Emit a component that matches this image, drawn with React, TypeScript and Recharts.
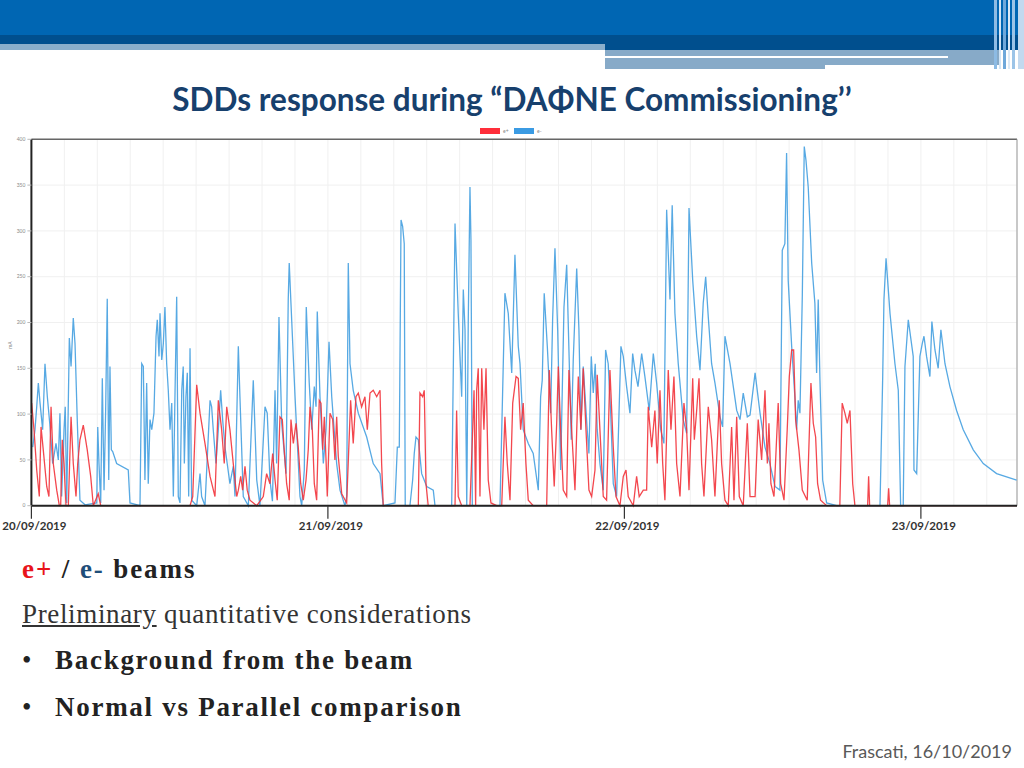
import React from 'react';
import { LineChart, Line, XAxis, YAxis, CartesianGrid, ReferenceLine } from 'recharts';

// hours since 20/09/2019 00:00
const dayLabels = ['20/09/2019', '21/09/2019', '22/09/2019', '23/09/2019'];
const yTicks = [0, 50, 100, 150, 200, 250, 300, 350, 400];

const eMinusHours = [
  0.11, 0.29, 0.43, 0.56, 0.7, 0.91, 1.1, 1.29, 1.51, 1.72,
  1.99, 2.18, 2.31, 2.45, 2.64, 2.74, 2.86, 3.07, 3.21, 3.39,
  3.53, 3.72, 3.93, 4.34, 5.29, 5.37, 5.47, 5.61, 5.74, 5.88,
  6.01, 6.14, 6.26, 6.36, 6.47, 6.58, 6.9, 7.84, 7.98, 8.79,
  8.93, 9.06, 9.19, 9.33, 9.46, 9.6, 9.74, 9.92, 10.09, 10.19,
  10.33, 10.41, 10.55, 10.68, 10.81, 10.95, 11.08, 11.22, 11.36, 11.49,
  11.62, 11.76, 11.89, 12.03, 12.17, 12.29, 12.38, 12.51, 12.62, 12.73,
  12.84, 12.97, 13.38, 13.65, 13.78, 14.05, 14.46, 14.59, 14.72, 14.94,
  15.13, 15.32, 15.48, 15.67, 16.07, 16.34, 16.48, 16.75, 16.88, 17.15,
  17.56, 17.96, 18.1, 18.24, 18.5, 18.91, 19.09, 19.31, 19.51, 19.72,
  19.85, 20.04, 20.26, 20.61, 20.79, 20.87, 21.01, 21.34, 21.74, 21.88,
  22.09, 22.25, 22.49, 22.69, 22.9, 23.04, 23.14, 23.36, 23.63, 23.85,
  23.95, 24.09, 24.31, 24.71, 24.98, 25.38, 25.52, 25.65, 25.79, 26.05,
  26.46, 27.14, 27.67, 28.22, 28.48, 29.43, 29.62, 29.78, 29.92, 30.05,
  30.18, 30.26, 30.64, 30.86, 30.99, 31.13, 31.32, 31.59, 32.0, 32.53,
  32.67, 34.02, 34.29, 34.55, 34.83, 34.96, 35.1, 35.24, 35.36, 35.5,
  35.58, 35.69, 37.93, 38.33, 38.6, 38.88, 39.14, 39.41, 39.55, 39.81,
  40.22, 40.62, 41.03, 41.22, 41.35, 41.51, 41.76, 42.03, 42.19, 42.38,
  42.6, 42.84, 43.11, 43.33, 43.54, 43.7, 43.86, 44.14, 44.32, 44.48,
  44.67, 44.99, 45.13, 45.32, 45.48, 45.64, 45.8, 46.02, 46.29, 46.48,
  46.69, 46.89, 47.1, 47.37, 47.72, 47.91, 48.18, 48.45, 48.67, 48.85,
  49.1, 49.4, 49.66, 50.01, 50.34, 50.61, 50.94, 51.2, 51.42, 51.69,
  51.87, 52.09, 52.36, 52.76, 53.04, 53.23, 53.53, 53.85, 54.12, 54.38,
  54.58, 54.79, 55.06, 55.33, 55.74, 55.95, 56.14, 56.55, 57.09, 57.36,
  57.62, 57.95, 58.17, 58.58, 58.98, 59.38, 59.78, 60.19, 60.59, 60.78,
  60.99, 61.13, 61.26, 61.54, 61.8, 61.94, 62.07, 62.21, 62.4, 62.56,
  62.7, 62.88, 63.16, 63.42, 63.56, 63.69, 63.83, 64.05, 64.37, 65.18,
  68.69, 68.91, 69.01, 69.18, 69.5, 69.9, 70.17, 70.36, 70.57, 70.71,
  70.98, 71.38, 71.44, 71.66, 71.92, 72.11, 72.25, 72.46, 72.73, 72.89,
  73.14, 73.4, 73.62, 73.95, 74.35, 74.89, 75.43, 76.24, 77.05, 78.13,
  79.75,
];
const eMinusCurrent = [
  64, 83, 108, 134, 112, 83, 155, 119, 86, 46,
  68, 50, 101, 10, 83, 108, 3, 183, 152, 205,
  177, 90, 6, 1, 3, 86, 46, 3, 139, 17,
  104, 226, 28, 152, 61, 59, 46, 39, 3, 0,
  155, 152, 28, 134, 24, 94, 83, 101, 185, 203,
  163, 210, 159, 177, 217, 155, 126, 83, 112, 10,
  119, 228, 10, 3, 126, 152, 46, 119, 145, 10,
  172, 6, 0, 35, 10, 0, 115, 108, 83, 46,
  83, 126, 94, 64, 24, 43, 10, 174, 119, 10,
  0, 137, 83, 28, 0, 108, 101, 28, 5, 126,
  46, 206, 90, 35, 225, 265, 221, 119, 10, 0,
  39, 217, 134, 83, 130, 108, 212, 119, 46, 83,
  119, 179, 119, 46, 17, 0, 10, 265, 155, 126,
  101, 75, 46, 35, 0, 3, 64, 64, 312, 305,
  286, 0, 0, 28, 57, 75, 72, 35, 21, 17,
  0, 0, 308, 210, 119, 236, 192, 0, 199, 348,
  290, 0, 0, 232, 210, 145, 274, 174, 155, 83,
  68, 57, 17, 119, 137, 232, 174, 101, 203, 281,
  192, 39, 217, 263, 155, 72, 159, 259, 192, 83,
  152, 83, 57, 163, 123, 155, 83, 46, 17, 170,
  155, 101, 24, 10, 174, 163, 130, 101, 166, 148,
  130, 166, 141, 104, 166, 134, 83, 68, 323, 225,
  328, 210, 155, 94, 79, 325, 246, 185, 148, 221,
  250, 206, 155, 134, 97, 86, 185, 155, 104, 94,
  123, 97, 99, 145, 101, 64, 46, 21, 17, 279,
  286, 385, 246, 174, 119, 83, 115, 101, 228, 392,
  377, 348, 265, 221, 145, 225, 137, 28, 3, 0,
  0, 141, 225, 270, 210, 155, 126, 0, 0, 152,
  203, 163, 39, 35, 163, 177, 185, 163, 141, 201,
  170, 150, 192, 155, 130, 104, 83, 61, 46, 35,
  28,
];

const ePlusHours = [
  0.02, 0.21, 0.43, 0.64, 0.78, 0.96, 1.24, 1.42, 1.59, 1.77,
  2.05, 2.26, 2.37, 2.5, 2.64, 2.8, 2.99, 3.21, 3.39, 3.61,
  3.75, 3.93, 4.2, 4.52, 4.8, 5.01, 5.41, 5.61, 12.84, 13.06,
  13.38, 13.65, 14.05, 14.46, 14.86, 15.13, 15.4, 15.61, 15.81, 16.07,
  16.34, 16.62, 16.75, 16.94, 17.1, 17.29, 17.47, 17.69, 18.24, 18.77,
  19.04, 19.31, 19.53, 19.72, 19.9, 20.12, 20.31, 20.45, 20.66, 20.87,
  21.01, 21.2, 21.42, 21.6, 21.8, 22.01, 22.23, 22.41, 22.55, 22.74,
  22.9, 23.09, 23.3, 23.44, 23.58, 23.71, 23.85, 23.95, 24.17, 24.39,
  24.57, 24.71, 24.84, 25.12, 25.52, 25.84, 26.05, 26.27, 26.46, 26.73,
  27.0, 27.19, 27.41, 27.67, 27.95, 28.22, 28.35, 28.48, 31.32, 31.45,
  31.67, 31.8, 31.94, 32.12, 34.29, 34.42, 34.55, 34.83, 35.5, 35.72,
  35.83, 35.96, 36.04, 36.17, 36.31, 36.45, 36.63, 36.8, 36.98, 37.2,
  37.66, 38.07, 38.33, 38.52, 38.74, 38.96, 39.23, 39.41, 39.6, 39.81,
  40.03, 40.22, 40.62, 41.71, 41.92, 42.11, 42.32, 42.52, 42.65, 42.84,
  43.05, 43.33, 43.51, 43.73, 44.0, 44.27, 44.48, 44.67, 44.89, 45.13,
  45.35, 45.62, 45.8, 46.02, 46.29, 46.56, 46.83, 47.1, 47.32, 47.64,
  47.91, 48.13, 48.31, 48.72, 48.99, 49.2, 49.53, 49.8, 49.93, 50.21,
  50.47, 50.66, 50.88, 51.1, 51.28, 51.55, 51.77, 52.01, 52.23, 52.5,
  52.82, 53.04, 53.23, 53.53, 53.66, 53.85, 54.04, 54.25, 54.44, 54.79,
  55.06, 55.33, 55.68, 55.87, 56.14, 56.41, 56.68, 56.87, 57.09, 57.3,
  57.62, 57.95, 58.17, 58.58, 58.83, 59.11, 59.38, 59.57, 59.7, 59.86,
  60.11, 60.45, 60.65, 60.92, 61.18, 61.35, 61.54, 61.7, 61.86, 62.13,
  62.4, 62.8, 63.02, 63.1, 63.29, 63.48, 63.64, 63.88, 64.37, 65.44,
  65.63, 65.85, 66.04, 66.26, 66.48, 66.66, 67.69, 67.77, 67.85, 69.31,
  69.39, 69.47, 79.75,
];
const ePlusCurrent = [
  112, 83, 39, 10, 86, 61, 21, 10, 108, 46,
  17, 0, 0, 72, 46, 0, 0, 97, 46, 10,
  46, 72, 88, 61, 32, 0, 13, 0, 0, 10,
  132, 101, 68, 32, 10, 115, 83, 46, 108, 83,
  46, 10, 17, 32, 17, 43, 17, 6, 0, 10,
  35, 24, 57, 28, 6, 97, 94, 64, 24, 6,
  94, 68, 90, 64, 24, 6, 28, 61, 108, 83,
  24, 6, 115, 112, 61, 97, 50, 10, 101, 94,
  50, 97, 54, 13, 3, 115, 68, 119, 123, 108,
  119, 83, 123, 126, 119, 126, 46, 0, 0, 123,
  119, 126, 24, 0, 0, 104, 10, 0, 0, 83,
  126, 0, 126, 150, 10, 150, 83, 150, 28, 3,
  0, 0, 97, 46, 6, 112, 141, 139, 83, 112,
  46, 6, 0, 0, 148, 83, 21, 90, 152, 83,
  17, 10, 148, 83, 17, 141, 83, 150, 83, 17,
  10, 39, 143, 83, 10, 6, 148, 64, 10, 0,
  32, 39, 10, 0, 32, 10, 17, 17, 108, 64,
  104, 46, 126, 46, 6, 148, 83, 141, 46, 10,
  112, 83, 17, 139, 72, 104, 139, 46, 10, 108,
  72, 10, 115, 46, 6, 0, 86, 6, 97, 10,
  0, 90, 10, 10, 94, 50, 126, 46, 90, 24,
  10, 112, 24, 6, 83, 141, 170, 170, 94, 61,
  17, 6, 101, 134, 90, 75, 24, 6, 0, 0,
  112, 101, 90, 104, 24, 0, 0, 32, 0, 0,
  19, 0, 0,
];

const T_MAX = 79.78;
const gridTicks = Array.from({ length: 30 }, (_, i) => (i * 8) / 3);

const toSeries = (hours: number[], values: number[]) =>
  hours.map((t, i) => ({ t, v: values[i] }));

const eMinusData = toSeries(eMinusHours, eMinusCurrent);
const ePlusData = toSeries(ePlusHours, ePlusCurrent);

const RED = '#f2333b';
const BLUE = '#45a0e0';

const TICK_SIZE = 13;
const TICK_MARGIN = 3;

const DayTick = (props: any) => {
  const { x, y, payload } = props;
  const day = payload.value / 24;
  if (Math.abs(day - Math.round(day)) > 1e-6) return <g />;
  return (
    <g>
      <line
        x1={x}
        x2={x}
        y1={y - TICK_SIZE - TICK_MARGIN}
        y2={y - TICK_MARGIN}
        stroke="#333"
        strokeWidth={1.2}
      />
      <text
        x={x + 3}
        y={y}
        dy="0.71em"
        textAnchor="middle"
        fontFamily="Lato, sans-serif"
        fontWeight={700}
        fontSize={11.5}
        fill="#333"
      >
        {dayLabels[Math.round(day)]}
      </text>
    </g>
  );
};

const serif = '"Liberation Serif", "Times New Roman", serif';

export default function App() {
  return (
    <div
      style={{
        position: 'absolute',
        left: 0,
        top: 0,
        width: 1024,
        height: 768,
        background: '#fff',
        overflow: 'hidden',
      }}
    >
      {/* header bands */}
      <div style={{ position: 'absolute', left: 0, top: 0, width: 1024, height: 35, background: '#0066b3' }} />
      <div style={{ position: 'absolute', left: 0, top: 35, width: 1024, height: 15, background: '#004f8e' }} />
      <div style={{ position: 'absolute', left: 0, top: 44, width: 605, height: 6, background: '#8aaecb' }} />
      <div style={{ position: 'absolute', left: 605, top: 50, width: 395, height: 15, background: '#87aac8' }} />
      <div style={{ position: 'absolute', left: 605, top: 65, width: 220, height: 4, background: '#87aac8' }} />
      <div style={{ position: 'absolute', left: 605, top: 56, width: 343, height: 2, background: '#ffffff' }} />
      <div style={{ position: 'absolute', left: 994, top: 0, width: 3, height: 69, background: '#8dbbe4' }} />
      <div style={{ position: 'absolute', left: 999, top: 0, width: 2, height: 69, background: '#d3e5f5' }} />
      <div style={{ position: 'absolute', left: 1003, top: 0, width: 3, height: 69, background: '#6fa8da' }} />
      <div style={{ position: 'absolute', left: 1008, top: 0, width: 2, height: 69, background: '#dbe9f6' }} />
      <div style={{ position: 'absolute', left: 1012, top: 0, width: 3, height: 69, background: '#9cc4e7' }} />
      <div style={{ position: 'absolute', left: 1018, top: 0, width: 6, height: 69, background: '#c2d9ef' }} />

      {/* title */}
      <div
        style={{
          position: 'absolute',
          left: 0,
          top: 83.6,
          width: 1024,
          textAlign: 'center',
          fontFamily: 'Lato, sans-serif',
          fontWeight: 700,
          fontSize: 31.5,
          lineHeight: '31.5px',
          color: '#17406d',
          whiteSpace: 'nowrap',
        }}
      >
        SDDs response during “DAΦNE Commissioning’’
      </div>

      {/* legend */}
      <div style={{ position: 'absolute', left: 480, top: 128, width: 20, height: 6, background: '#ff2e3a' }} />
      <div style={{ position: 'absolute', left: 503, top: 127.5, fontSize: 5, lineHeight: '6px', color: '#888', fontFamily: 'Lato, sans-serif' }}>e+</div>
      <div style={{ position: 'absolute', left: 514, top: 128, width: 20, height: 6, background: '#3b9be3' }} />
      <div style={{ position: 'absolute', left: 537, top: 127.5, fontSize: 5, lineHeight: '6px', color: '#888', fontFamily: 'Lato, sans-serif' }}>e-</div>

      {/* y axis title */}
      <div
        style={{
          position: 'absolute',
          left: 4,
          top: 342,
          width: 12,
          height: 6,
          fontSize: 5,
          lineHeight: '6px',
          color: '#888',
          textAlign: 'center',
          fontFamily: 'Lato, sans-serif',
          transform: 'rotate(-90deg)',
        }}
      >
        mA
      </div>

      {/* chart */}
      <div style={{ position: 'absolute', left: 0, top: 120 }}>
        <LineChart
          width={1024}
          height={430}
          margin={{ top: 19.3, right: 7, left: 0, bottom: 14.3 }}
        >
          <CartesianGrid stroke="#f0f0f0" strokeWidth={1} />
          <XAxis
            type="number"
            dataKey="t"
            domain={[0, T_MAX]}
            ticks={gridTicks}
            interval={0}
            height={30}
            tickSize={TICK_SIZE}
            tickMargin={TICK_MARGIN}
            tickLine={false}
            axisLine={{ stroke: '#222', strokeWidth: 2 }}
            tick={<DayTick />}
            allowDataOverflow
          />
          <YAxis
            type="number"
            domain={[0, 400]}
            ticks={yTicks}
            width={31.4}
            tickSize={4}
            tickMargin={2}
            tickLine={{ stroke: '#bbb' }}
            axisLine={{ stroke: '#222', strokeWidth: 2 }}
            tick={{ fontSize: 5, fill: '#888', fontFamily: 'Lato, sans-serif' }}
          />
          <ReferenceLine y={400} stroke="#666" strokeWidth={1.5} />
          <ReferenceLine x={T_MAX} stroke="#999" strokeWidth={1} />
          <Line
            data={eMinusData}
            dataKey="v"
            type="linear"
            stroke={BLUE}
            strokeWidth={1.3}
            strokeOpacity={0.9}
            dot={false}
            isAnimationActive={false}
          />
          <Line
            data={ePlusData}
            dataKey="v"
            type="linear"
            stroke={RED}
            strokeWidth={1.3}
            strokeOpacity={0.9}
            dot={false}
            isAnimationActive={false}
          />
        </LineChart>
      </div>

      {/* bottom text */}
      <div
        style={{
          position: 'absolute',
          left: 22,
          top: 555.7,
          fontFamily: serif,
          fontWeight: 700,
          fontSize: 27,
          lineHeight: '27px',
          letterSpacing: 1.9,
          color: '#222',
          whiteSpace: 'nowrap',
        }}
      >
        <span style={{ color: '#e8141b' }}>e+</span> / <span style={{ color: '#1f4e79' }}>e-</span> beams
      </div>
      <div
        style={{
          position: 'absolute',
          left: 22,
          top: 600.7,
          fontFamily: serif,
          fontSize: 27,
          lineHeight: '27px',
          letterSpacing: 0.65,
          color: '#333',
          whiteSpace: 'nowrap',
        }}
      >
        <span style={{ textDecoration: 'underline' }}>Preliminary</span> quantitative considerations
      </div>
      {[
        { text: 'Background from the beam', top: 647.4 },
        { text: 'Normal vs Parallel comparison', top: 694 },
      ].map((b) => (
        <div
          key={b.text}
          style={{
            position: 'absolute',
            left: 22,
            top: b.top,
            fontFamily: serif,
            fontSize: 27,
            lineHeight: '27px',
            color: '#222',
            whiteSpace: 'nowrap',
          }}
        >
          <span style={{ display: 'inline-block', width: 33 }}>•</span>
          <span style={{ fontWeight: 700, letterSpacing: 1.72 }}>{b.text}</span>
        </div>
      ))}

      {/* footer */}
      <div
        style={{
          position: 'absolute',
          right: 12,
          top: 742,
          fontFamily: 'Lato, sans-serif',
          fontSize: 18,
          lineHeight: '18px',
          color: '#595959',
          whiteSpace: 'nowrap',
        }}
      >
        Frascati, 16/10/2019
      </div>
    </div>
  );
}
